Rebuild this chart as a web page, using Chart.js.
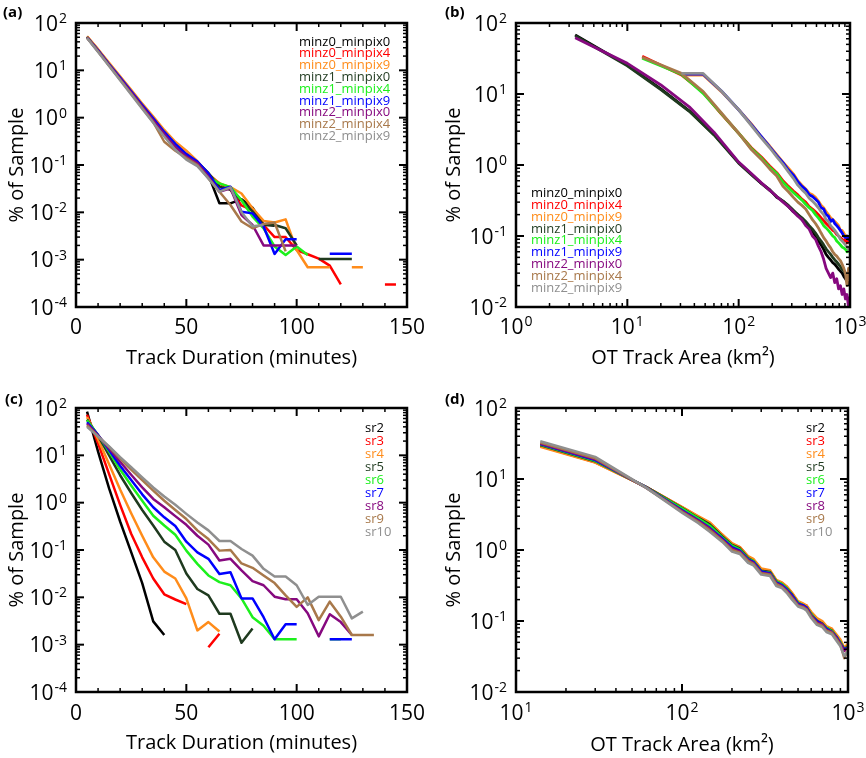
<!DOCTYPE html>
<html><head><meta charset="utf-8">
<script src="https://cdn.jsdelivr.net/npm/chart.js@4.4.1/dist/chart.umd.min.js"></script>
<style>
html,body{margin:0;padding:0;background:#fff;}
#wrap{position:relative;width:866px;height:758px;overflow:hidden;}
.p{position:absolute;width:433px;height:379px;}
canvas{display:block;}
</style></head><body>
<div id="wrap">
<div class="p" style="left:0;top:0"><canvas id="ca" width="433" height="379"></canvas></div>
<div class="p" style="left:433px;top:0"><canvas id="cb" width="433" height="379"></canvas></div>
<div class="p" style="left:0;top:379px"><canvas id="cc" width="433" height="379"></canvas></div>
<div class="p" style="left:433px;top:379px"><canvas id="cd" width="433" height="379"></canvas></div>
</div>
<script>
// ---------------- names & colours ----------------
const namesMinz = ['minz0_minpix0','minz0_minpix4','minz0_minpix9','minz1_minpix0','minz1_minpix4','minz1_minpix9','minz2_minpix0','minz2_minpix4','minz2_minpix9'];
const namesSr = ['sr2','sr3','sr4','sr5','sr6','sr7','sr8','sr9','sr10'];
const colors = ['#000000','#ff0000','#ff8c1a','#1f3a1f','#1cf01c','#0000ff','#86097f','#a8784a','#8f8f8f'];

// ---------------- panel (a): track duration, minz/minpix ----------------
const durationA = [5,10,15,20,25,30,35,40,45,50,55,60,65,70,75,80,85,90,95,100,105,110,115,120,125,130,135,140,145];
const a_minz0_minpix0 = [50,26,13.3,6.7,3.4,1.75,0.9,0.45,0.25,0.155,0.105,0.062,0.0155,0.0155,0.019,0.0125,0.0055,0.0052];
const a_minz0_minpix4 = [52,27,13.8,7.0,3.6,1.85,0.95,0.5,0.28,0.17,0.11,0.062,0.041,0.03,0.014,0.011,0.0054,0.003,0.003,0.0016,0.0013,0.00105,0.00075,0.0003,null,null,null,0.0003,0.0003];
const a_minz0_minpix9 = [52,28,14.5,7.5,3.9,2.0,1.05,0.55,0.31,0.2,0.12,0.065,0.041,0.034,0.025,0.0122,0.0066,0.0061,0.0071,0.0016,0.00069,0.00069,0.00069,null,0.00069,0.00069];
const a_minz1_minpix0 = [50,26,13,6.6,3.4,1.75,0.9,0.46,0.26,0.16,0.115,0.068,0.035,0.03,0.018,0.0105,0.0054,0.0054,0.0046,0.002,null,0.00103,0.00103,0.00103,0.00103];
const a_minz1_minpix4 = [50,26,13.3,6.8,3.5,1.8,0.92,0.47,0.26,0.16,0.105,0.055,0.041,0.034,0.018,0.0081,0.0046,0.0019,0.00125,0.0019,0.00125];
const a_minz1_minpix9 = [50,26.5,13.5,7.0,3.6,1.85,0.97,0.5,0.28,0.17,0.118,0.0667,0.0296,0.0348,0.0103,0.0095,0.005,0.00132,0.0027,0.0027,null,null,0.00134,0.00134,0.00134];
const a_minz2_minpix0 = [49,25.5,13,6.6,3.4,1.72,0.88,0.45,0.24,0.15,0.108,0.0567,0.0273,0.0321,0.0088,0.0054,0.002,0.002,0.002,0.002];
const a_minz2_minpix4 = [49,25,12.5,6.3,3.2,1.6,0.8,0.31,0.2,0.14,0.1,0.052,0.0273,0.0143,0.0064,0.0046,0.0057,0.0061,0.0015];
const a_minz2_minpix9 = [48,24.5,12.3,6.2,3.1,1.55,0.78,0.4,0.21,0.13,0.095,0.052,0.0273,0.0337,0.01,0.0051,0.0054];

// ---------------- panel (b): OT track area, minz/minpix ----------------
const areaMinpix0 = [3.4,10,20,36,60,100,130,160,190,220,250,280,310,340,370,400,430,460,490,520,550,580,610,640,670,700,730,760,790,820,850,880,910,940,970,1000];
const areaMinpix4 = [13.6,30.6,48,70,100,130,160,190,220,250,280,310,340,370,400,430,460,490,520,550,580,610,640,670,700,730,760,790,820,850,880,910,940,970,1000];
const areaMinpix9 = [30.6,48,70,100,130,160,190,220,250,280,310,340,370,400,430,460,490,520,550,580,610,640,670,700,730,760,790,820,850,880,910,940,970,1000];
const b_minz0_minpix0 = [68,25.5,11.8,5.8,2.7,1.08,0.74,0.55,0.45,0.35,0.31,0.26,0.22,0.2,0.17,0.15,0.13,0.115,0.1,0.085,0.075,0.065,0.055,0.05,0.046,0.042,0.04,0.037,0.034,0.032,0.03,0.027,0.025,0.023,0.021,0.023];
const b_minz1_minpix0 = [66,25,11.5,5.7,2.65,1.06,0.73,0.55,0.44,0.36,0.31,0.27,0.23,0.2,0.18,0.16,0.14,0.125,0.11,0.095,0.085,0.075,0.066,0.06,0.055,0.05,0.046,0.043,0.04,0.037,0.034,0.032,0.03,0.027,0.025,0.028];
const b_minz2_minpix0 = [62,27,13.4,6.6,2.9,1.1,0.76,0.56,0.44,0.36,0.3,0.26,0.22,0.19,0.17,0.14,0.125,0.1,0.09,0.072,0.06,0.047,0.035,0.03,0.026,0.03,0.022,0.025,0.018,0.02,0.015,0.018,0.013,0.015,0.01,0.014];
const b_minz0_minpix4 = [34,18.5,10.5,5.2,2.8,1.75,1.3,0.97,0.78,0.6,0.5,0.43,0.38,0.33,0.3,0.26,0.24,0.22,0.2,0.18,0.165,0.15,0.14,0.13,0.12,0.115,0.105,0.1,0.095,0.09,0.085,0.09,0.08,0.085,0.09];
const b_minz1_minpix4 = [32,19,10.2,5.3,2.8,1.7,1.25,0.93,0.76,0.57,0.48,0.41,0.36,0.32,0.28,0.25,0.23,0.2,0.18,0.16,0.14,0.13,0.12,0.11,0.1,0.095,0.085,0.08,0.075,0.07,0.068,0.065,0.06,0.065,0.06];
const b_minz2_minpix4 = [33,19.5,10.8,5.4,2.8,1.65,1.2,0.88,0.7,0.5,0.42,0.35,0.3,0.27,0.24,0.2,0.17,0.15,0.13,0.11,0.095,0.085,0.075,0.068,0.06,0.055,0.052,0.048,0.045,0.04,0.035,0.03,0.02,0.035,0.03];
const b_minz0_minpix9 = [18.5,18.5,10.8,6.0,3.8,2.5,1.85,1.4,1.1,0.9,0.75,0.6,0.52,0.46,0.4,0.38,0.35,0.31,0.27,0.25,0.22,0.2,0.18,0.17,0.16,0.15,0.14,0.12,0.12,0.11,0.1,0.1,0.095,0.1];
const b_minz1_minpix9 = [19,19,11,6.0,3.7,2.5,1.8,1.35,1.08,0.85,0.72,0.58,0.5,0.45,0.38,0.36,0.33,0.3,0.25,0.24,0.2,0.19,0.16,0.17,0.15,0.14,0.13,0.12,0.11,0.1,0.095,0.1,0.09,0.1];
const b_minz2_minpix9 = [19.5,19.5,11,6.0,3.6,2.4,1.75,1.3,1.02,0.8,0.65,0.52,0.45,0.4,0.34,0.31,0.28,0.25,0.22,0.2,0.17,0.16,0.14,0.13,0.12,0.11,0.1,0.09,0.085,0.08,0.075,0.07,0.065,0.07];

// ---------------- panel (c): track duration, search radius ----------------
const durationC = [5,10,15,20,25,30,35,40,45,50,55,60,65,70,75,80,85,90,95,100,105,110,115,120,125,130,135];
const c_sr2 = [84,12,2.0,0.4,0.09,0.02,0.0031,0.0016];
const c_sr3 = [72,18,4,0.9,0.22,0.07,0.025,0.0116,0.009,0.0072,null,0.00088,0.0017];
const c_sr4 = [64,22,6.5,1.9,0.6,0.2,0.07,0.035,0.025,0.0095,0.002,0.003,0.0019];
const c_sr5 = [57,26,10,3.8,1.6,0.7,0.33,0.15,0.1,0.032,0.015,0.011,0.0045,0.0045,0.0011,0.0022];
const c_sr6 = [55,27,12,5,2.3,1.1,0.53,0.33,0.21,0.097,0.051,0.029,0.021,0.018,0.0095,0.0038,0.0025,0.0013,0.0013,0.0013,null,null,0.0013,0.0013];
const c_sr7 = [50,27,13,6,3,1.5,0.8,0.49,0.32,0.15,0.089,0.065,0.031,0.034,0.0095,0.0095,0.0038,0.0013,0.0027,0.0027,null,null,0.0013,0.0013,0.0013];
const c_sr8 = [46,26,14,7.3,3.9,2.1,1.2,0.8,0.52,0.34,0.2,0.13,0.06,0.065,0.037,0.022,0.018,0.0103,0.0091,0.0091,0.0046,0.0015,0.0044,0.003,0.0016];
const c_sr9 = [43,25,15,8.5,5,3.0,1.8,1.1,0.7,0.45,0.26,0.17,0.097,0.1,0.052,0.042,0.029,0.02,0.011,0.0063,0.01,0.0033,0.0081,0.0039,0.0016,0.0016,0.0016];
const c_sr10 = [40,25,15.5,9.2,5.6,3.4,2.1,1.35,0.9,0.58,0.38,0.26,0.155,0.155,0.105,0.076,0.04,0.0275,0.0275,0.018,0.0069,0.0103,0.0103,0.0103,0.0036,0.005];

// ---------------- panel (d): OT track area, search radius ----------------
const areaD = [14,30,61,101,125,147,175,200,223,250,269,300,339,370,400,427,460,500,540,563,600,650,700,741,800,850,900,950,1000];
const d_sr2 = [29.5,17.5,7.7,3.9,2.9,2.35,1.6,1.2,1.08,0.78,0.72,0.52,0.5,0.37,0.34,0.3,0.24,0.185,0.17,0.16,0.13,0.105,0.095,0.082,0.075,0.062,0.052,0.04,0.045];
const d_sr3 = [29,17.2,7.7,3.95,2.95,2.4,1.62,1.22,1.1,0.8,0.73,0.53,0.5,0.37,0.345,0.3,0.245,0.18,0.17,0.165,0.13,0.1,0.097,0.08,0.077,0.06,0.05,0.038,0.046];
const d_sr4 = [28.5,17,7.7,4.0,3.0,2.45,1.65,1.25,1.1,0.82,0.75,0.55,0.52,0.38,0.35,0.31,0.25,0.19,0.175,0.165,0.135,0.11,0.1,0.085,0.078,0.065,0.055,0.042,0.048];
const d_sr5 = [30,17.8,7.7,3.85,2.85,2.3,1.55,1.18,1.05,0.77,0.7,0.51,0.49,0.36,0.33,0.29,0.235,0.18,0.165,0.155,0.125,0.1,0.092,0.08,0.073,0.06,0.05,0.04,0.044];
const d_sr6 = [30.5,18,7.6,3.8,2.8,2.2,1.5,1.15,1.02,0.75,0.7,0.5,0.48,0.36,0.33,0.29,0.23,0.18,0.165,0.155,0.125,0.1,0.09,0.08,0.072,0.06,0.05,0.04,0.043];
const d_sr7 = [31,18.5,7.6,3.6,2.65,2.05,1.45,1.1,0.98,0.74,0.68,0.5,0.47,0.35,0.32,0.28,0.23,0.175,0.165,0.155,0.12,0.1,0.09,0.078,0.07,0.06,0.048,0.04,0.042];
const d_sr8 = [31.5,19,7.5,3.5,2.6,2.0,1.4,1.05,0.95,0.72,0.66,0.48,0.46,0.34,0.31,0.27,0.22,0.17,0.16,0.15,0.12,0.095,0.09,0.075,0.07,0.058,0.048,0.038,0.042];
const d_sr9 = [32.5,19.5,7.5,3.4,2.5,1.9,1.35,1.0,0.92,0.7,0.64,0.47,0.45,0.33,0.3,0.26,0.21,0.165,0.155,0.145,0.115,0.092,0.085,0.073,0.068,0.056,0.046,0.03,0.04];
const d_sr10 = [34,20.5,7.5,3.3,2.4,1.8,1.3,0.95,0.88,0.66,0.61,0.45,0.43,0.31,0.29,0.25,0.2,0.16,0.15,0.14,0.11,0.088,0.082,0.07,0.065,0.053,0.044,0.032,0.038];

// ---------------- axis tick label values ----------------
const durationTicks = [0,50,100,150];
const percentExpA = [-4,-3,-2,-1,0,1,2];
const percentExpB = [-2,-1,0,1,2];
const areaExpB = [0,1,2,3];
const areaExpD = [1,2,3];

// ---------------- drawing helpers ----------------
const FF = '"Open Sans", "DejaVu Sans", sans-serif';
const panelCfg = {};
function txt(ctx, s, x, yc, size, align, color, weight) {
  ctx.font = (weight || 'normal') + ' ' + size + 'px ' + FF;
  ctx.fillStyle = color || '#000';
  ctx.textAlign = align || 'left';
  ctx.textBaseline = 'alphabetic';
  ctx.fillText(s, x, yc + 0.36 * size);
}
function powLabel(ctx, e, x, yc, mode) {
  const B = 21, E = 14;
  ctx.font = B + 'px ' + FF; const bw = ctx.measureText('10').width;
  ctx.font = E + 'px ' + FF; const es = String(e); const ew = ctx.measureText(es).width;
  const bx = mode === 'right' ? x - ew - bw - 1 : x - (bw + 1 + ew) / 2;
  txt(ctx, '10', bx, yc, B, 'left');
  txt(ctx, es, bx + bw + 1, yc - 5, E, 'left');
}
function logTicks(min, max) {
  const out = [];
  for (let d = Math.floor(Math.log10(min)); d <= Math.ceil(Math.log10(max)); d++) {
    for (let k = 1; k <= 9; k++) {
      const v = k * Math.pow(10, d);
      if (v >= min * 0.999 && v <= max * 1.001) out.push({ v, major: k === 1 });
    }
  }
  return out;
}
function linTicks(min, max, major, minor) {
  const out = [];
  for (let v = min; v <= max; v += minor) out.push({ v, major: v % major === 0 });
  return out;
}

const frame = {
  id: 'frame',
  afterDatasetsDraw(chart) {
    const cfg = panelCfg[chart.canvas.id];
    if (!cfg) return;
    const ctx = chart.ctx, a = chart.chartArea, xs = chart.scales.x, ys = chart.scales.y;
    ctx.save();
    ctx.strokeStyle = '#000';
    ctx.lineCap = 'butt';
    const seg = (x1, y1, x2, y2) => { ctx.beginPath(); ctx.moveTo(x1, y1); ctx.lineTo(x2, y2); ctx.stroke(); };
    const xt = cfg.xType === 'linear' ? linTicks(cfg.xMin, cfg.xMax, 50, 10) : logTicks(cfg.xMin, cfg.xMax);
    const yt = logTicks(cfg.yMin, cfg.yMax);
    for (const t of xt) {
      const px = xs.getPixelForValue(t.v), L = t.major ? 8 : 4;
      ctx.lineWidth = t.major ? 2 : 1.5;
      seg(px, a.bottom, px, a.bottom - L); seg(px, a.top, px, a.top + L);
    }
    for (const t of yt) {
      const py = ys.getPixelForValue(t.v), L = t.major ? 8 : 4;
      ctx.lineWidth = t.major ? 2 : 1.5;
      seg(a.left, py, a.left + L, py); seg(a.right, py, a.right - L, py);
    }
    ctx.lineWidth = 2.5;
    ctx.strokeRect(a.left, a.top, a.right - a.left, a.bottom - a.top);

    // y tick labels
    for (const e of cfg.yExps) powLabel(ctx, e, a.left - 9, ys.getPixelForValue(Math.pow(10, e)), 'right');
    // x tick labels
    const xly = a.bottom + cfg.xLabGap;
    if (cfg.xType === 'linear') {
      for (const v of durationTicks) txt(ctx, String(v), xs.getPixelForValue(v), xly, 21, 'center');
    } else {
      for (const e of cfg.xExps) powLabel(ctx, e, xs.getPixelForValue(Math.pow(10, e)), xly, 'center');
    }
    // axis titles
    txt(ctx, cfg.xTitle, (a.left + a.right) / 2, cfg.xTitleY, 20, 'center');
    ctx.save();
    ctx.translate(cfg.yTitleX, (a.top + a.bottom) / 2);
    ctx.rotate(-Math.PI / 2);
    txt(ctx, '% of Sample', 0, 0, 20, 'center');
    ctx.restore();
    // panel label
    txt(ctx, cfg.label, cfg.labelX, cfg.labelY, 15, 'left', '#000', 'bold');
    // legend
    cfg.names.forEach((n, i) => txt(ctx, n, cfg.legX, cfg.legY + i * cfg.legDy, 13, 'left', colors[i]));
    ctx.restore();
  }
};

function series(xArr, vals, i, width) {
  return {
    label: '',
    data: vals.map((v, k) => ({ x: xArr[k], y: v })),
    borderColor: colors[i],
    backgroundColor: colors[i],
    borderWidth: width,
    pointRadius: 0,
    tension: 0,
    spanGaps: false,
    fill: false,
    borderJoinStyle: 'round',
    order: 20 - i
  };
}

function makeChart(id, cfg, datasets) {
  panelCfg[id] = cfg;
  new Chart(document.getElementById(id), {
    type: 'line',
    data: { datasets },
    options: {
      responsive: false, animation: false, events: [],
      layout: { padding: cfg.pad },
      plugins: { legend: { display: false }, tooltip: { enabled: false } },
      scales: {
        x: { type: cfg.xType, min: cfg.xMin, max: cfg.xMax, display: false },
        y: { type: 'logarithmic', min: cfg.yMin, max: cfg.yMax, display: false }
      }
    },
    plugins: [frame]
  });
}

makeChart('ca', {
  pad: { left: 76, top: 23, right: 26, bottom: 72 }, xType: 'linear', xMin: 0, xMax: 150, yMin: 1e-4, yMax: 100, yExps: percentExpA,
  xLabGap: 19, xTitle: 'Track Duration (minutes)', xTitleY: 357, yTitleX: 16,
  label: '(a)', labelX: 3, labelY: 12, names: namesMinz, legX: 299, legY: 41, legDy: 11.8
}, [
  series(durationA, a_minz0_minpix0, 0, 2.5), series(durationA, a_minz0_minpix4, 1, 2.5), series(durationA, a_minz0_minpix9, 2, 2.5),
  series(durationA, a_minz1_minpix0, 3, 2.5), series(durationA, a_minz1_minpix4, 4, 2.5), series(durationA, a_minz1_minpix9, 5, 2.5),
  series(durationA, a_minz2_minpix0, 6, 2.5), series(durationA, a_minz2_minpix4, 7, 2.5), series(durationA, a_minz2_minpix9, 8, 2.5)
]);

makeChart('cb', {
  pad: { left: 83, top: 23, right: 16, bottom: 72 }, xType: 'logarithmic', xMin: 1, xMax: 1000, yMin: 1e-2, yMax: 100, yExps: percentExpB, xExps: areaExpB,
  xLabGap: 19, xTitle: 'OT Track Area (km²)', xTitleY: 357, yTitleX: 20,
  label: '(b)', labelX: 12, labelY: 12, names: namesMinz, legX: 98, legY: 192, legDy: 11.95
}, [
  series(areaMinpix0, b_minz0_minpix0, 0, 2.8), series(areaMinpix4, b_minz0_minpix4, 1, 2.8), series(areaMinpix9, b_minz0_minpix9, 2, 2.8),
  series(areaMinpix0, b_minz1_minpix0, 3, 2.8), series(areaMinpix4, b_minz1_minpix4, 4, 2.8), series(areaMinpix9, b_minz1_minpix9, 5, 2.8),
  series(areaMinpix0, b_minz2_minpix0, 6, 2.8), series(areaMinpix4, b_minz2_minpix4, 7, 2.8), series(areaMinpix9, b_minz2_minpix9, 8, 2.8)
]);

makeChart('cc', {
  pad: { left: 76, top: 29, right: 26, bottom: 66 }, xType: 'linear', xMin: 0, xMax: 150, yMin: 1e-4, yMax: 100, yExps: percentExpA,
  xLabGap: 20, xTitle: 'Track Duration (minutes)', xTitleY: 363, yTitleX: 16,
  label: '(c)', labelX: 5, labelY: 20, names: namesSr, legX: 365, legY: 48, legDy: 13
}, [
  series(durationC, c_sr2, 0, 2.5), series(durationC, c_sr3, 1, 2.5), series(durationC, c_sr4, 2, 2.5),
  series(durationC, c_sr5, 3, 2.5), series(durationC, c_sr6, 4, 2.5), series(durationC, c_sr7, 5, 2.5),
  series(durationC, c_sr8, 6, 2.5), series(durationC, c_sr9, 7, 2.5), series(durationC, c_sr10, 8, 2.5)
]);

makeChart('cd', {
  pad: { left: 83, top: 29, right: 18, bottom: 66 }, xType: 'logarithmic', xMin: 10, xMax: 1000, yMin: 1e-2, yMax: 100, yExps: percentExpB, xExps: areaExpD,
  xLabGap: 20, xTitle: 'OT Track Area (km²)', xTitleY: 365, yTitleX: 20,
  label: '(d)', labelX: 12, labelY: 20, names: namesSr, legX: 373, legY: 48, legDy: 13
}, [
  series(areaD, d_sr2, 0, 2.5), series(areaD, d_sr3, 1, 2.5), series(areaD, d_sr4, 2, 2.5),
  series(areaD, d_sr5, 3, 2.5), series(areaD, d_sr6, 4, 2.5), series(areaD, d_sr7, 5, 2.5),
  series(areaD, d_sr8, 6, 2.5), series(areaD, d_sr9, 7, 2.5), series(areaD, d_sr10, 8, 2.5)
]);
</script>
</body></html>
